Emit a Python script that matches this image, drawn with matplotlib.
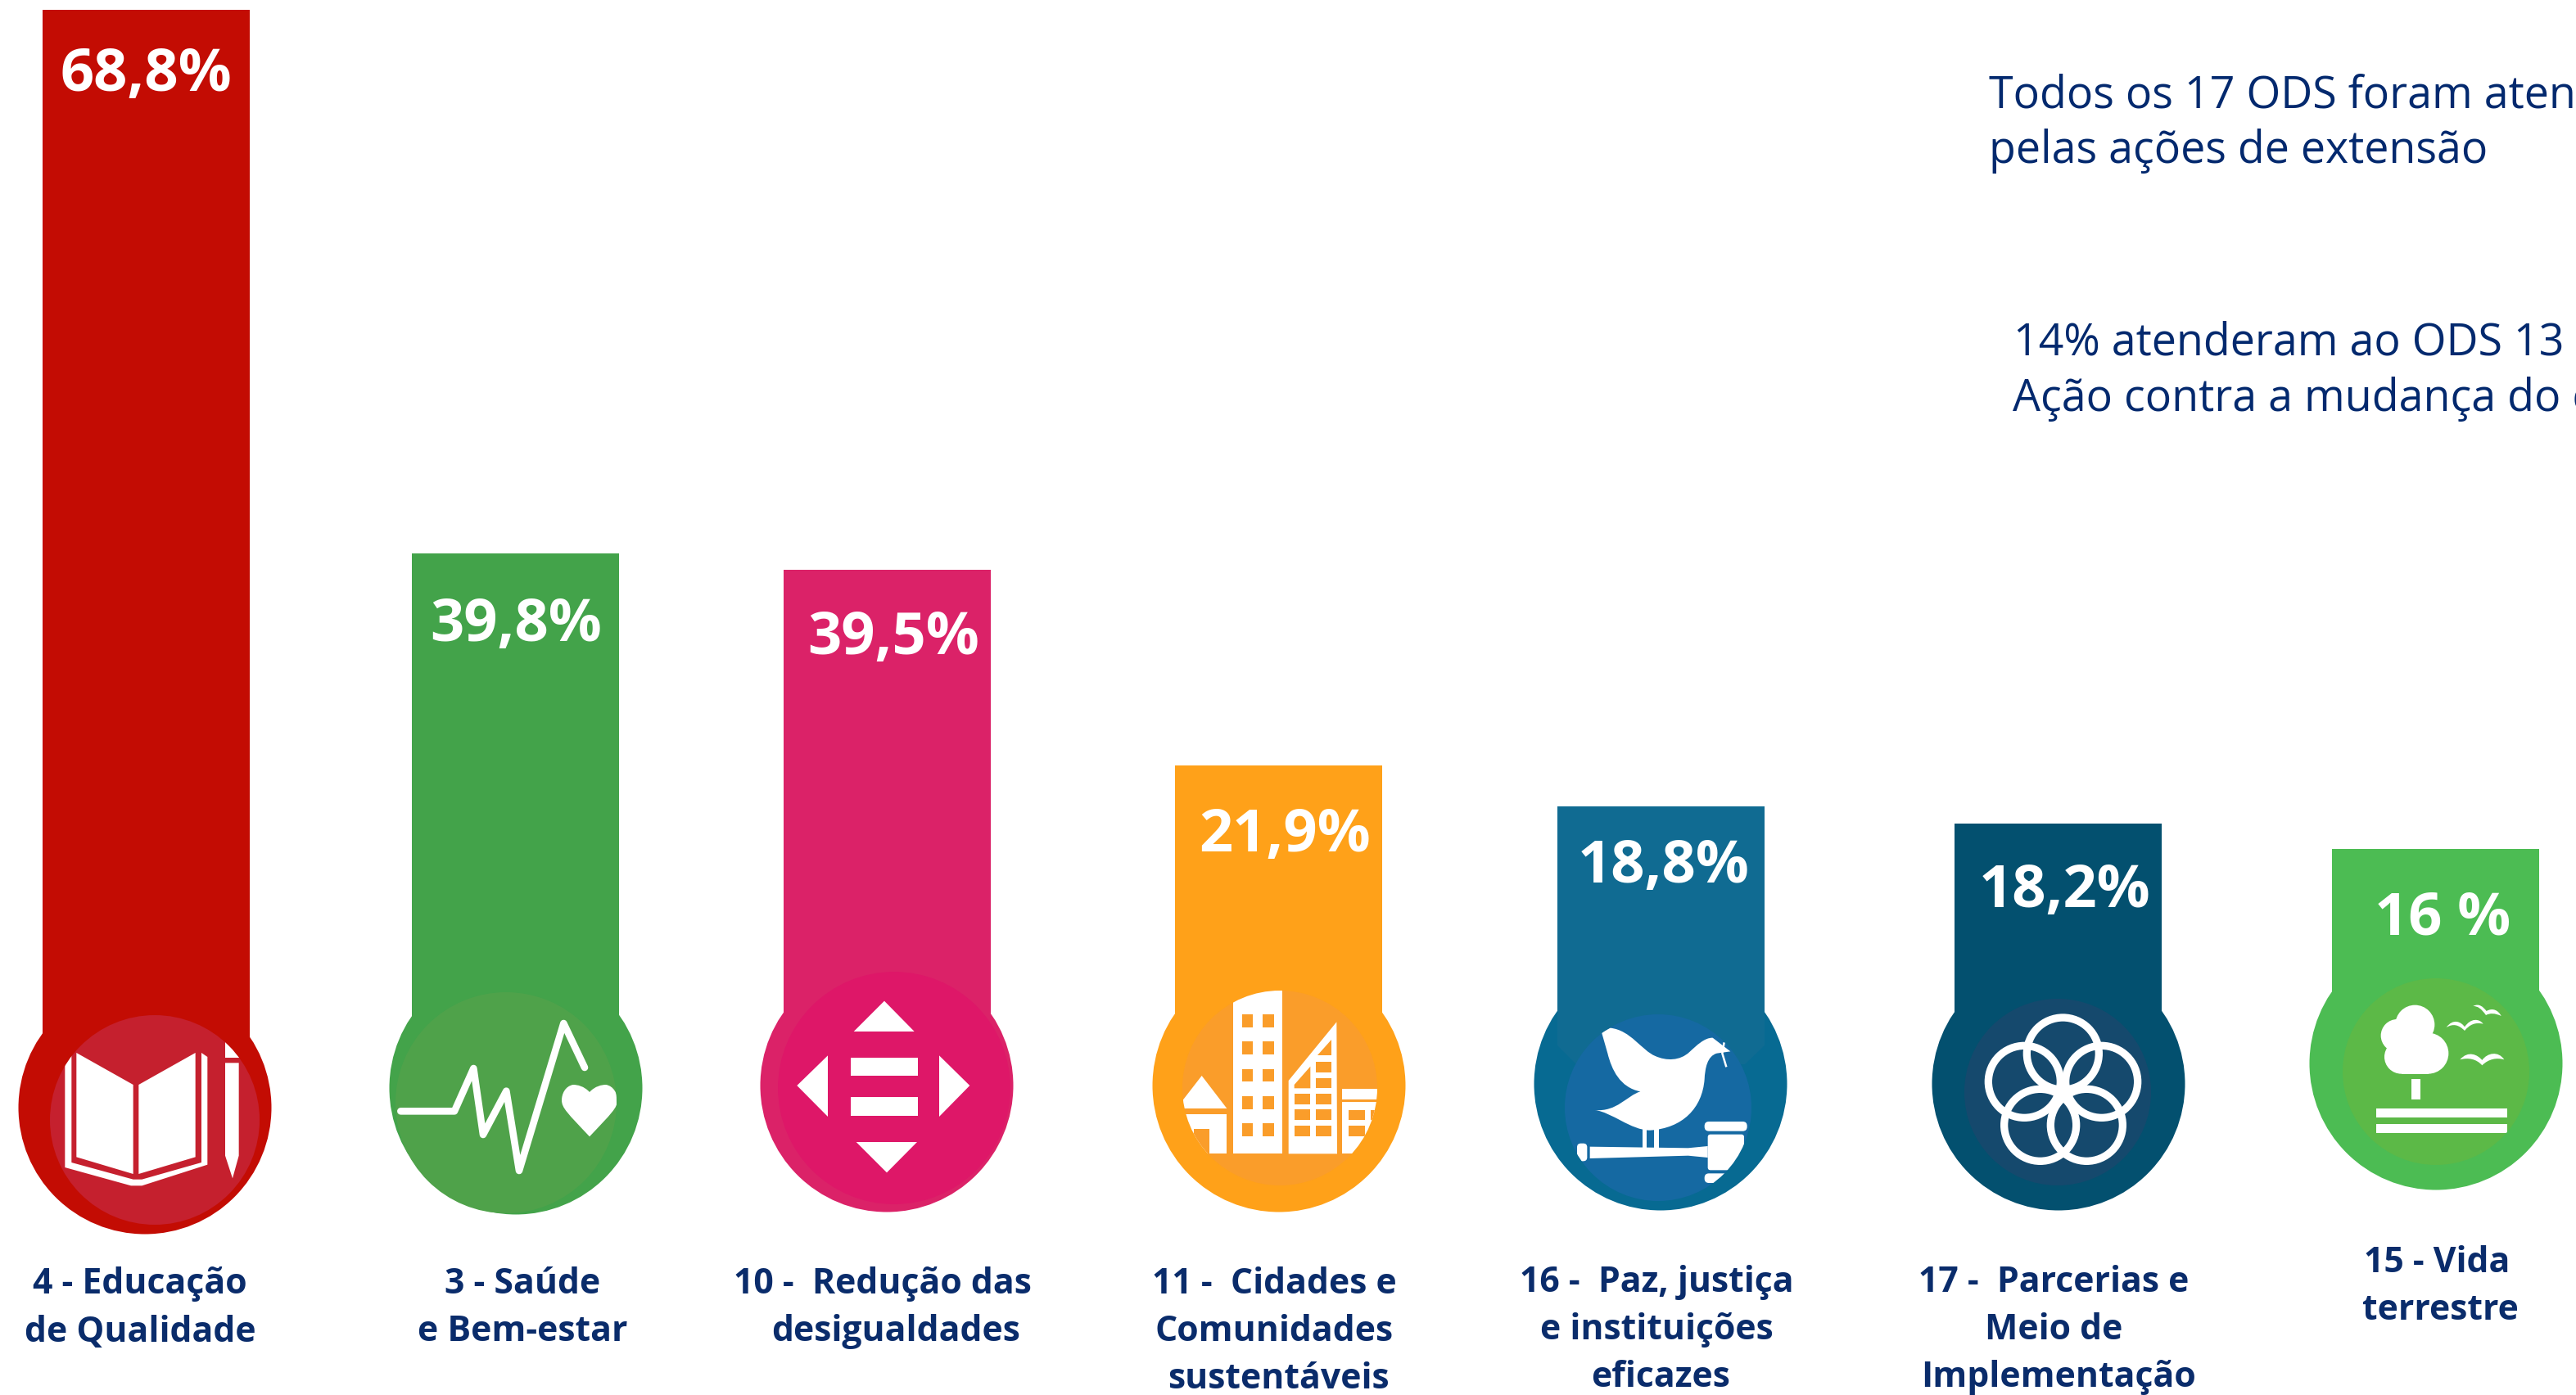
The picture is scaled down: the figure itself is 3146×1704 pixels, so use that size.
import matplotlib
matplotlib.use('Agg')
import matplotlib.pyplot as plt
from matplotlib.patches import Circle, Polygon, PathPatch, FancyBboxPatch
from matplotlib.path import Path

plt.rcParams['font.family'] = ['Open Sans', 'DejaVu Sans']

NAVY = '#0A2C6B'
WHITE = '#FFFFFF'

# values as printed on the bars
value_labels = ['68,8%', '39,8%', '39,5%', '21,9%', '18,8%', '18,2%', '16 %']
# the bars of the picture are not drawn to scale, so tops are read off it (px from the top)
bar_tops = [12, 676, 696, 935, 985, 1006, 1037]
bar_colors = ['#C30C03', '#43A34A', '#DB2268', '#FFA119', '#106B92', '#03506F', '#4CBC53']
inner_colors = ['#C5202E', '#4FA24A', '#DE1768', '#FA9D2A', '#1569A2', '#15496D', '#5CB947']
outer_colors = ['#C30C03', '#43A34A', '#DB2268', '#FFA119', '#076A92', '#03506F', '#4CBC53']
bar_lefts = [52, 503, 957, 1435, 1902, 2387, 2848]
bar_width = 253

label_lines = [
    ['4 - Educação', 'de Qualidade'],
    ['3 - Saúde', 'e Bem-estar'],
    ['10 -  Redução das', 'desigualdades'],
    ['11 -  Cidades e', 'Comunidades', 'sustentáveis'],
    ['16 -  Paz, justiça', 'e instituições', 'eficazes'],
    ['17 -  Parcerias e', 'Meio de', 'Implementação'],
    ['15 - Vida', 'terrestre'],
]
label_x = [[171, 171], [638, 638], [1078, 1094], [1556, 1556, 1561],
           [2023, 2023, 2028], [2508, 2508, 2514], [2976, 2980]]
label_y0 = [1569, 1569, 1569, 1569, 1567, 1567, 1542]
value_x = [178, 630, 1091, 1569, 2032, 2522, 2983]
value_y = [92, 764, 780, 1021, 1059, 1089, 1123]

# outer circle cx, cy, inner circle cx, cy, r
outer_circles = [(177, 1353), (630, 1329), (1083, 1326), (1562, 1326), (2028, 1324), (2514, 1324), (2975, 1299)]
inner_circles = [(189, 1368, 128), (618, 1347, 135), (1092, 1329, 142), (1563, 1329, 119),
                 (2025, 1353, 114), (2513, 1334, 114), (2975, 1309, 114)]
crop_origin = [(10, 1190), (460, 1190), (910, 1180), (1390, 1190), (1855, 1190), (2340, 1190), (2806, 1160)]

note_lines = [(2429, 131, 'Todos os 17 ODS foram atendidos'),
              (2429, 199, 'pelas ações de extensão'),
              (2459, 434, '14% atenderam ao ODS 13'),
              (2458, 502, 'Ação contra a mudança do clima')]

fig = plt.figure(figsize=(31.46, 17.04), dpi=100)
ax = fig.add_axes([0, 0, 1, 1])
ax.set_xlim(0, 3146)
ax.set_ylim(1704, 0)
ax.axis('off')


class Icon:
    """draws white shapes in 3x crop coordinates, clipped to the inner circle"""

    def __init__(self, i):
        self.ox, self.oy = crop_origin[i]
        self.fill = inner_colors[i]
        cx, cy, r = inner_circles[i]
        self.clip = Circle((cx, cy), r, fc=self.fill, ec='none', zorder=4)
        ax.add_patch(self.clip)

    def xy(self, x, y):
        return self.ox + x / 3.0, self.oy + y / 3.0

    def add(self, patch):
        ax.add_patch(patch)
        patch.set_clip_path(self.clip)

    def poly(self, pts, color=WHITE, z=5):
        self.add(Polygon([self.xy(*p) for p in pts], fc=color, ec='none', zorder=z))

    def rect(self, x0, y0, x1, y1, color=WHITE, z=5):
        self.poly([(x0, y0), (x1, y0), (x1, y1), (x0, y1)], color, z)

    def round_rect(self, x0, y0, x1, y1, rad):
        a = self.xy(x0 + rad, y0 + rad)
        b = self.xy(x1 - rad, y1 - rad)
        self.add(FancyBboxPatch(a, b[0] - a[0], b[1] - a[1], boxstyle='round,pad=%f,rounding_size=%f' % (rad / 3.0, rad / 3.0),
                                fc=WHITE, ec='none', zorder=5))

    def circle(self, x, y, r, **kw):
        kw.setdefault('fc', WHITE)
        kw.setdefault('ec', 'none')
        self.add(Circle(self.xy(x, y), r / 3.0, zorder=5, **kw))

    def curve(self, start, segments):
        verts = [self.xy(*start)]
        codes = [Path.MOVETO]
        for seg in segments:
            for p in seg:
                verts.append(self.xy(*p))
            codes += [Path.CURVE4] * 3 if len(seg) == 3 else [Path.LINETO]
        verts.append(verts[0])
        codes.append(Path.CLOSEPOLY)
        self.add(PathPatch(Path(verts, codes), fc=WHITE, ec='none', zorder=5))

    def line(self, pts, lw, cap='round'):
        xs, ys = zip(*[self.xy(*p) for p in pts])
        ln, = ax.plot(xs, ys, color=WHITE, lw=lw, solid_capstyle=cap, solid_joinstyle='round', zorder=5)
        ln.set_clip_path(self.clip)


def book(ic):
    ic.poly([(250, 288), (458, 405), (458, 732), (250, 670)])
    ic.poly([(478, 405), (686, 288), (686, 670), (478, 732)])
    ic.poly([(208, 230), (232, 230), (232, 690), (458, 752), (490, 752), (708, 690), (708, 288), (730, 303),
             (730, 698), (490, 775), (450, 775), (208, 708)])
    ic.rect(795, 200, 845, 305)
    ic.poly([(795, 325), (845, 325), (845, 665), (822, 748), (795, 665)])


def pulse(ic):
    ic.line([(88, 502), (285, 502), (355, 345), (390, 588), (475, 428), (522, 720), (685, 180), (762, 342)], 6.2)
    ic.curve((780, 432), [[(800, 410), (825, 405), (840, 405)], [(870, 410), (882, 440), (882, 462)],
                          [(882, 490), (860, 510), (780, 595)], [(700, 510), (678, 490), (678, 462)],
                          [(678, 440), (690, 410), (720, 405)], [(735, 405), (760, 410), (780, 432)]])


def arrows(ic):
    ic.poly([(510, 128), (620, 240), (398, 240)])
    ic.poly([(190, 438), (303, 328), (303, 552)])
    ic.poly([(823, 438), (711, 328), (711, 552)])
    ic.poly([(407, 645), (630, 645), (519, 757)])
    ic.rect(386, 335, 633, 403)
    ic.rect(386, 481, 633, 548)


def city(ic):
    w = ic.fill
    ic.poly([(233, 372), (325, 492), (140, 492)])
    ic.rect(140, 512, 325, 658)
    ic.rect(205, 568, 262, 658, w, 6)
    ic.rect(349, 40, 528, 658)
    for y0, y1 in [(148, 195), (247, 294), (347, 394), (447, 494), (546, 593)]:
        ic.rect(380, y0, 421, y1, w, 6)
        ic.rect(455, y0, 499, y1, w, 6)
    ic.poly([(551, 390), (727, 175), (729, 658), (551, 658)])
    ic.poly([(708, 240), (708, 298), (657, 298)], w, 6)
    ic.poly([(572, 405), (631, 338), (631, 418), (572, 418)], w, 6)
    for y0, y1 in [(320, 360), (380, 418), (437, 476), (496, 535), (555, 593)]:
        ic.rect(650, y0, 708, y1, w, 6)
    for y0, y1 in [(437, 476), (496, 535), (555, 593)]:
        ic.rect(572, y0, 631, y1, w, 6)
    ic.rect(748, 420, 900, 460)
    ic.rect(748, 468, 900, 658)
    for y0, y1 in [(497, 535), (555, 593)]:
        ic.rect(772, y0, 830, y1, w, 6)
    ic.rect(852, 497, 900, 535, w, 6)


def dove(ic):
    ic.curve((303, 213), [[(335, 197)], [(410, 205), (450, 280), (500, 300)], [(540, 318), (590, 318), (625, 285)],
                          [(650, 262), (680, 232), (710, 233)], [(775, 283)], [(725, 290)],
                          [(690, 300), (682, 345), (680, 385)], [(672, 490), (600, 565), (480, 572)],
                          [(410, 572), (340, 505), (278, 498)], [(360, 505), (395, 445), (445, 430)],
                          [(370, 415), (340, 350), (325, 290)]])
    ic.rect(452, 565, 468, 640)
    ic.rect(494, 565, 512, 640)
    ic.line([(752, 250), (745, 290), (760, 340)], 1.8, 'butt')
    ic.poly([(260, 632), (620, 637), (692, 630), (692, 672), (620, 665), (260, 675)])
    ic.round_rect(213, 620, 250, 685, 14)
    ic.round_rect(692, 587, 825, 718, 10)
    ic.round_rect(680, 540, 836, 575, 16)
    ic.round_rect(680, 730, 836, 765, 16)


def rings(ic):
    for x, y in [(538, 291), (397, 394), (680, 394), (455, 553), (625, 553)]:
        ic.circle(x, y, 132, fc='none', ec=WHITE, lw=6.7)


def tree(ic):
    for x, y, r in [(430, 275, 72), (365, 315, 60), (380, 393, 62), (478, 380, 75)]:
        ic.circle(x, y, r)
    ic.rect(380, 370, 480, 455)
    ic.rect(417, 475, 451, 550)
    ic.rect(287, 581, 769, 615)
    ic.rect(287, 640, 769, 673)
    ic.curve((545, 285), [[(570, 250), (600, 265), (612, 283)], [(635, 250), (665, 252), (680, 272)],
                          [(650, 265), (630, 275), (612, 297)], [(590, 275), (570, 270), (545, 285)]])
    ic.curve((643, 207), [[(665, 195), (680, 210), (692, 225)], [(715, 212), (735, 222), (746, 243)],
                          [(722, 232), (705, 232), (690, 240)], [(672, 215), (660, 207), (643, 207)]])
    ic.curve((595, 403), [[(625, 368), (660, 385), (676, 405)], [(695, 378), (735, 370), (757, 403)],
                          [(730, 395), (700, 400), (676, 424)], [(655, 400), (625, 395), (595, 403)]])


icon_funcs = [book, pulse, arrows, city, dove, rings, tree]

for i in range(len(value_labels)):
    cx, cy = outer_circles[i]
    ax.add_patch(Circle((cx, cy), 154.5, fc=outer_colors[i], ec='none', zorder=1))
    ax.bar(bar_lefts[i], cy - 85 - bar_tops[i], width=bar_width, bottom=bar_tops[i], align='edge',
           color=bar_colors[i], zorder=2)
    ic = Icon(i)
    icon_funcs[i](ic)
    ax.text(value_x[i], value_y[i], value_labels[i], color=WHITE, fontsize=52, fontweight='bold',
            ha='center', va='center', zorder=7)
    for j, line in enumerate(label_lines[i]):
        ax.text(label_x[i][j], label_y0[i] + j * 58, line, color=NAVY, fontsize=30.8, fontweight='bold',
                ha='center', va='center', zorder=7)

# the bar of ODS 16 runs a little lower and ends in a chamfer
ax.add_patch(Polygon([(1902, 1239), (1902, 1277), (1925, 1300), (2131, 1300), (2155, 1277), (2155, 1239)],
                     fc=bar_colors[4], ec='none', zorder=2))

for x, y, s in note_lines:
    ax.text(x, y, s, color='#03296E', fontsize=38.7, ha='left', va='baseline')

fig.savefig('out.png', dpi=100, facecolor='white')
